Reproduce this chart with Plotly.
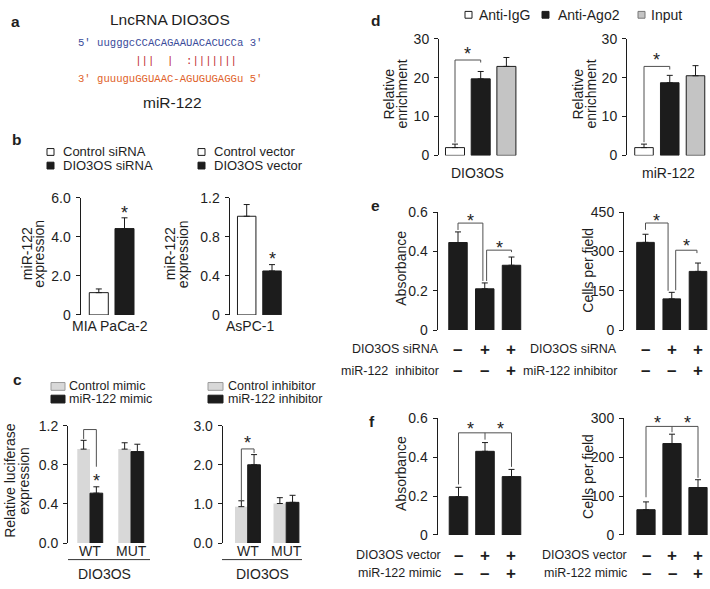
import plotly.graph_objects as go

W, H = 710, 589
def px(x): return x / W
def py(y): return 1 - y / H

FONT = "Liberation Sans, Arial, sans-serif"
MONO = "Liberation Mono, Courier New, monospace"
TXT = "#1e1e1e"
BLACK = "#1c1c1c"
LGRAY = "#d8d8d8"
MGRAY = "#c4c4c4"

# ---------------- data ----------------
b_groups = ["Control siRNA", "DIO3OS siRNA"]
b_left_vals = [1.14, 4.42]
b_left_err = [0.19, 0.55]
b_right_groups = ["Control vector", "DIO3OS vector"]
b_right_vals = [1.01, 0.45]
b_right_err = [0.12, 0.065]

c_cats = ["WT", "MUT"]
c_left_ctrl = [0.96, 0.96]
c_left_ctrl_err = [0.09, 0.065]
c_left_mimic = [0.51, 0.935]
c_left_mimic_err = [0.065, 0.075]
c_right_ctrl = [0.93, 1.01]
c_right_ctrl_err = [0.15, 0.15]
c_right_inh = [2.0, 1.04]
c_right_inh_err = [0.26, 0.18]

d_groups = ["Anti-IgG", "Anti-Ago2", "Input"]
d_left_vals = [2.0, 19.7, 22.9]
d_left_err = [0.9, 1.9, 2.3]
d_right_vals = [2.0, 18.7, 20.5]
d_right_err = [0.9, 1.9, 2.6]

e_left_vals = [0.446, 0.21, 0.33]
e_left_err = [0.054, 0.03, 0.042]
e_right_vals = [335, 119, 224]
e_right_err = [31, 25, 32]
e_row1 = ["–", "+", "+"]
e_row2 = ["–", "–", "+"]

f_left_vals = [0.197, 0.43, 0.30]
f_left_err = [0.048, 0.045, 0.037]
f_right_vals = [65, 235, 122]
f_right_err = [20, 24, 20]
f_row1 = ["–", "+", "+"]
f_row2 = ["–", "–", "+"]

ticks_b_left = ([0, 2, 4, 6], ["0", "2.0", "4.0", "6.0"])
ticks_b_right = ([0, 0.4, 0.8, 1.2], ["0", "0.4", "0.8", "1.2"])
ticks_c_left = ([0, 0.4, 0.8, 1.2], ["0.0", "0.4", "0.8", "1.2"])
ticks_c_right = ([0, 1, 2, 3], ["0.0", "1.0", "2.0", "3.0"])
ticks_d = ([0, 10, 20, 30], ["0", "10", "20", "30"])
ticks_abs = ([0, 0.2, 0.4, 0.6], ["0", "0.2", "0.4", "0.6"])
ticks_e_right = ([0, 150, 300, 450], ["0", "150", "300", "450"])
ticks_f_right = ([0, 100, 200, 300], ["0", "100", "200", "300"])

fig = go.Figure()
layout = dict(width=W, height=H, margin=dict(l=0, r=0, t=0, b=0), autosize=False,
              paper_bgcolor="white", plot_bgcolor="rgba(0,0,0,0)",
              showlegend=False, barmode="overlay",
              font=dict(family=FONT, color=TXT, size=14))
annotations = []
shapes = []

def ax(i):
    return ("x" if i == 1 else f"x{i}"), ("y" if i == 1 else f"y{i}")

def add_axes(i, L, R, top, bot, ymax, c0, step, ticks):
    xn, yn = ax(i)
    layout["xaxis" + ("" if i == 1 else str(i))] = dict(
        domain=[px(L), px(R)], range=[(L - c0) / step, (R - c0) / step],
        visible=False, anchor=yn, fixedrange=True)
    layout["yaxis" + ("" if i == 1 else str(i))] = dict(
        domain=[py(bot), py(top)], range=[0, ymax], anchor=xn,
        showline=True, linecolor=BLACK, linewidth=1, ticks="outside",
        ticklen=4, tickwidth=1, tickcolor=BLACK, showgrid=False, zeroline=False,
        tickvals=ticks[0], ticktext=ticks[1], tickfont=dict(size=14, color=TXT),
        ticklabelstandoff=2, fixedrange=True)

def add_bars(i, xs, vals, errs, color, width, outline=True):
    xn, yn = ax(i)
    fig.add_trace(go.Bar(
        x=xs, y=vals, width=width, xaxis=xn, yaxis=yn, hoverinfo="skip",
        marker=dict(color=color, line=dict(color=BLACK if outline else color, width=1 if outline else 0)),
        error_y=dict(type="data", symmetric=False, array=errs, arrayminus=[0] * len(vals),
                     color=BLACK, thickness=1, width=3)))

def bracket(i, path):
    xn, yn = ax(i)
    shapes.append(dict(type="path", path=path, xref=xn, yref=yn,
                       line=dict(color="#505050", width=1)))

def star(i, x, y):
    xn, yn = ax(i)
    annotations.append(dict(text="*", x=x, y=y, xref=xn, yref=yn, showarrow=False,
                            font=dict(size=18, color=TXT), yshift=-4))

def text(t, x, y, size=14, xanchor="center", angle=0, color=TXT, family=FONT, bold=False):
    annotations.append(dict(text=(f"<b>{t}</b>" if bold else t), x=px(x), y=py(y), xref="paper", yref="paper",
                            showarrow=False, xanchor=xanchor, yanchor="middle", textangle=angle,
                            borderpad=0, font=dict(size=size, color=color, family=family)))

def rect(x0, y0, x1, y1, fill, line=BLACK):
    shapes.append(dict(type="rect", xref="paper", yref="paper", x0=px(x0), x1=px(x1),
                       y0=py(y1), y1=py(y0), fillcolor=fill, line=dict(color=line, width=1)))

# ---------------- panel a ----------------
text("a", 15, 14, size=15.5, bold=True)
text("LncRNA DIO3OS", 170, 12, size=15.5)
NB = "\u00a0"
seq_top = "5' uugggcCCACAGAAUACACUCCa 3'".replace(" ", NB)
seq_pair = (NB * 9 + "|||  |  :|||||||" + NB * 4).replace(" ", NB)
seq_bot = "3' guuuguGGUAAC-AGUGUGAGGu 5'".replace(" ", NB)
text(seq_top, 169.5, 36, size=10.6, family=MONO, color="#3a4b9a")
text(seq_pair, 169.5, 54.5, size=10.6, family=MONO, color="#c0282e")
text(seq_bot, 169.5, 72.5, size=10.6, family=MONO, color="#e0622a")
text("miR-122", 172, 97, size=15.5)

# ---------------- panel b ----------------
text("b", 16, 135, size=15.5, bold=True)
rect(47, 144.5, 54, 151.5, "white")
rect(47, 158.5, 54, 165.5, BLACK)
text(b_groups[0], 62, 148, size=13, xanchor="left")
text(b_groups[1], 62, 162, size=13, xanchor="left")
rect(198, 144.5, 205, 151.5, "white")
rect(198, 158.5, 205, 165.5, BLACK)
text(b_right_groups[0], 213, 148, size=13, xanchor="left")
text(b_right_groups[1], 213, 162, size=13, xanchor="left")

add_axes(1, 80.5, 145, 195, 315.5, 6, 98.8, 25.7, ticks_b_left)
add_bars(1, [0], b_left_vals[:1], b_left_err[:1], "white", 0.74)
add_bars(1, [1], b_left_vals[1:], b_left_err[1:], BLACK, 0.74)
star(1, 1, 5.42)
add_axes(2, 229.5, 290, 195, 315.5, 1.2, 246.7, 25.3, ticks_b_right)
add_bars(2, [0], b_right_vals[:1], b_right_err[:1], "white", 0.73)
add_bars(2, [1], b_right_vals[1:], b_right_err[1:], BLACK, 0.73)
star(2, 1, 0.61)
text("miR-122", 27, 253, angle=-90)
text("expression", 39.5, 253, angle=-90)
text("miR-122", 170, 253, angle=-90)
text("expression", 183, 253, angle=-90)
text("MIA PaCa-2", 110, 327)
text("AsPC-1", 250, 327)

# ---------------- panel c ----------------
text("c", 17, 382, size=15.5, bold=True)
rect(51, 385, 65, 393, LGRAY, line="#9a9a9a")
rect(51, 398, 65, 406, BLACK)
text("Control mimic", 68, 389, size=12.5, xanchor="left")
text("miR-122 mimic", 68, 402, size=12.5, xanchor="left")
rect(208, 385, 223, 393, LGRAY, line="#9a9a9a")
rect(208, 398, 223, 406, BLACK)
text("Control inhibitor", 227, 389, size=12.5, xanchor="left")
text("miR-122 inhibitor", 227, 402, size=12.5, xanchor="left")

bw = 0.31
add_axes(3, 68, 155, 429.3, 550, 1.2, 90, 41, ticks_c_left)
add_bars(3, [k - bw / 2 for k in range(2)], c_left_ctrl, c_left_ctrl_err, LGRAY, bw, outline=False)
add_bars(3, [k + bw / 2 for k in range(2)], c_left_mimic, c_left_mimic_err, BLACK, bw)
bracket(3, f"M {-bw/2},1.064 L {-bw/2},1.16 L {bw/2},1.16 L {bw/2},0.78")
star(3, bw / 2, 0.68)
bw2 = 0.33
add_axes(4, 222.7, 305, 429.3, 550, 3.0, 247.7, 38.5, ticks_c_right)
add_bars(4, [k - bw2 / 2 for k in range(2)], c_right_ctrl, c_right_ctrl_err, LGRAY, bw2, outline=False)
add_bars(4, [k + bw2 / 2 for k in range(2)], c_right_inh, c_right_inh_err, BLACK, bw2)
bracket(4, f"M {-bw2/2},1.1 L {-bw2/2},2.405 L {bw2/2},2.405 L {bw2/2},2.3")
star(4, 0, 2.66)
for i in (3, 4):
    xn, _ = ax(i)
    for k, cname in enumerate(c_cats):
        annotations.append(dict(text=cname, x=k, y=py(558), xref=xn, yref="paper", showarrow=False,
                                yanchor="middle", borderpad=0, font=dict(size=14, color=TXT)))
shapes.append(dict(type="line", xref="paper", yref="paper", x0=px(68), x1=px(150), y0=py(567), y1=py(567),
                   line=dict(color="#333", width=1)))
shapes.append(dict(type="line", xref="paper", yref="paper", x0=px(222), x1=px(302), y0=py(567), y1=py(567),
                   line=dict(color="#333", width=1)))
text("DIO3OS", 104, 582)
text("DIO3OS", 262, 582)
text("Relative luciferase", 10, 486, angle=-90)
text("expression", 24, 486, angle=-90)

# ---------------- panel d ----------------
text("d", 375, 13, size=15.5, bold=True)
rect(465, 3.5, 472, 10.5, "white")
text(d_groups[0], 478, 7.5, xanchor="left")
rect(542, 3.5, 549, 10.5, BLACK)
text(d_groups[1], 557, 7.5, xanchor="left")
rect(638, 3.5, 645, 10.5, MGRAY, line="#777")
text(d_groups[2], 650, 7.5, xanchor="left")

d_colors = ["white", BLACK, MGRAY]
add_axes(5, 439, 520, 31.7, 151.5, 30, 455, 25.7, ticks_d)
for k in range(3):
    add_bars(5, [k], [d_left_vals[k]], [d_left_err[k]], d_colors[k], 0.74)
bracket(5, "M 0,3.3 L 0,24.55 L 1,24.55 L 1,23.9")
star(5, 0.5, 27.05)
add_axes(6, 627, 708, 31.7, 151.5, 30, 644, 25.75, ticks_d)
for k in range(3):
    add_bars(6, [k], [d_right_vals[k]], [d_right_err[k]], d_colors[k], 0.72)
bracket(6, "M 0,3.4 L 0,22.9 L 1,22.9 L 1,22.1")
star(6, 0.5, 25.6)
text("Relative", 389, 89, angle=-90)
text("enrichment", 402, 89, angle=-90)
text("Relative", 578, 89, angle=-90)
text("enrichment", 591, 89, angle=-90)
text("DIO3OS", 477, 170)
text("miR-122", 668, 170)

# ---------------- panel e ----------------
text("e", 375, 203, size=15.5, bold=True)
add_axes(7, 437.5, 525, 210, 331, 0.6, 458, 26.75, ticks_abs)
add_bars(7, [0, 1, 2], e_left_vals, e_left_err, BLACK, 0.69)
bracket(7, "M 0,0.51 L 0,0.545 L 0.93,0.545 L 0.93,0.25")
bracket(7, "M 1.07,0.25 L 1.07,0.407 L 2,0.407 L 2,0.397")
star(7, 0.46, 0.575)
star(7, 1.54, 0.44)
add_axes(8, 624, 710, 210, 331, 450, 645.5, 26.25, ticks_e_right)
add_bars(8, [0, 1, 2], e_right_vals, e_right_err, BLACK, 0.67)
bracket(8, "M 0,383 L 0,409 L 0.86,409 L 0.86,150")
bracket(8, "M 1.15,152 L 1.15,305 L 1.96,305 L 1.96,294")
star(8, 0.4, 431)
star(8, 1.58, 335)
text("Absorbance", 401, 268, angle=-90)
text("Cells per field", 588, 270, angle=-90)

def cond_rows(i, right_edge, y1, y2, lab1, lab2, row1, row2):
    xn, _ = ax(i)
    text(lab1, right_edge, y1, size=12.5, xanchor="right")
    text(lab2, right_edge, y2, size=12.5, xanchor="right")
    for yy, row in ((y1, row1), (y2, row2)):
        for k, s in enumerate(row):
            annotations.append(dict(text=f"<b>{s}</b>", x=k, y=py(yy), xref=xn, yref="paper",
                                    showarrow=False, yanchor="middle", borderpad=0,
                                    font=dict(size=17, color=TXT)))

cond_rows(7, 440, 351, 373, "DIO3OS siRNA", "miR-122  inhibitor", e_row1, e_row2)
cond_rows(8, 618, 351, 373, "DIO3OS siRNA", "miR-122 inhibitor", e_row1, e_row2)

# ---------------- panel f ----------------
text("f", 372, 425, size=15.5, bold=True)
add_axes(9, 437.5, 525, 421.7, 541.7, 0.6, 458.5, 26.5, ticks_abs)
add_bars(9, [0, 1, 2], f_left_vals, f_left_err, BLACK, 0.7)
bracket(9, "M 0,0.26 L 0,0.525 L 2,0.525 L 2,0.35 M 1,0.525 L 1,0.49")
star(9, 0.47, 0.563)
star(9, 1.57, 0.563)
add_axes(10, 624, 710, 421.7, 541.7, 300, 646, 26, ticks_f_right)
add_bars(10, [0, 1, 2], f_right_vals, f_right_err, BLACK, 0.7)
bracket(10, "M 0,97 L 0,279 L 2,279 L 2,147 M 1,279 L 1,264")
star(10, 0.46, 297)
star(10, 1.58, 297)
text("Absorbance", 401, 479, angle=-90)
text("Cells per field", 588, 482, angle=-90)
cond_rows(9, 442, 562.7, 581, "DIO3OS vector", "miR-122 mimic", f_row1, f_row2)
cond_rows(10, 628, 562.7, 581, "DIO3OS vector", "miR-122 mimic", f_row1, f_row2)

layout["annotations"] = annotations
layout["shapes"] = shapes
layout["hovermode"] = False
fig.update_layout(**layout)
fig.write_html("out.html", config={"displayModeBar": False, "staticPlot": True},
               post_script="document.body.style.margin='0';document.body.style.overflow='hidden';")
